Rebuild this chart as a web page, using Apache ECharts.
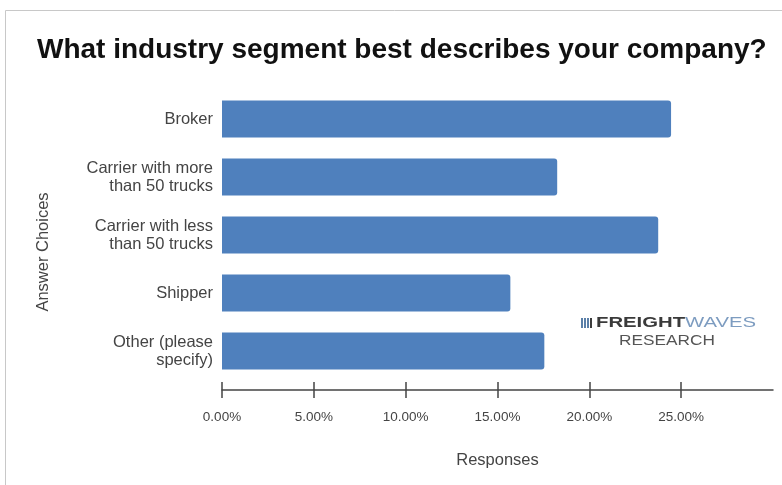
<!DOCTYPE html>
<html>
<head>
<meta charset="utf-8">
<script src="https://cdn.jsdelivr.net/npm/echarts@6/dist/echarts.min.js"></script>
<style>
html,body{margin:0;padding:0;background:#fff;}
#chart{width:782px;height:485px;}
</style>
</head>
<body>
<div id="chart"></div>
<script>
const titleText = 'What industry segment best describes your company?';
const categories = ['Broker', 'Carrier with more\nthan 50 trucks', 'Carrier with less\nthan 50 trucks', 'Shipper', 'Other (please\nspecify)'];
const values = [24.45, 18.25, 23.75, 15.7, 17.55];
const tickValues = [0, 5, 10, 15, 20, 25];
const xName = 'Responses';
const yName = 'Answer Choices';

const chart = echarts.init(document.getElementById('chart'));
const font = '"Liberation Sans", Arial, sans-serif';
const xCommon = {
  type: 'value', min: 0, max: 30, interval: 5,
  splitLine: { show: false },
  offset: 10
};
chart.setOption({
  animation: false,
  backgroundColor: '#fff',
  title: {
    text: titleText, left: 32, top: 31,
    textStyle: { fontFamily: font, fontSize: 28, fontWeight: 'bold', color: '#111' }
  },
  grid: { left: 222, right: 9, top: 90, bottom: 105 },
  xAxis: [
    Object.assign({}, xCommon, {
      axisLine: { show: true, lineStyle: { color: '#444', width: 1.5 } },
      axisTick: { show: true, length: 8, lineStyle: { color: '#444', width: 1.5 }, customValues: tickValues },
      axisLabel: {
        show: true, margin: 20, customValues: tickValues,
        formatter: v => v.toFixed(2) + '%',
        fontFamily: font, fontSize: 13.5, color: '#444'
      },
      name: xName, nameLocation: 'middle', nameGap: 62,
      nameTextStyle: { fontFamily: font, fontSize: 16.5, color: '#444' }
    }),
    Object.assign({}, xCommon, {
      axisLine: { show: false },
      axisTick: { show: true, inside: true, length: 8, lineStyle: { color: '#444', width: 1.5 }, customValues: tickValues },
      axisLabel: { show: false },
      position: 'bottom'
    })
  ],
  yAxis: {
    type: 'category', data: categories, inverse: true,
    axisLine: { show: false }, axisTick: { show: false },
    axisLabel: { margin: 9, fontFamily: font, fontSize: 16.5, color: '#444', lineHeight: 18, align: 'right' },
    name: yName, nameLocation: 'middle', nameGap: 170, nameRotate: 90,
    nameTextStyle: { fontFamily: font, fontSize: 16.5, color: '#444', padding: [0, 34, 0, 0] }
  },
  series: [{
    type: 'bar', data: values, barWidth: 37,
    itemStyle: { color: '#4f80bd', borderRadius: [0, 3, 3, 0] }
  }],
  graphic: [
    { type: 'rect', shape: { x: 5.5, y: 10.5, width: 800, height: 500 }, style: { fill: 'none', stroke: '#c8c8c8', lineWidth: 1 }, silent: true },
    { type: 'rect', shape: { x: 581, y: 318, width: 2, height: 10 }, style: { fill: '#5a7fa8' } },
    { type: 'rect', shape: { x: 584, y: 318, width: 2, height: 10 }, style: { fill: '#5a7fa8' } },
    { type: 'rect', shape: { x: 587, y: 318, width: 2, height: 10 }, style: { fill: '#5a7fa8' } },
    { type: 'rect', shape: { x: 590, y: 318, width: 2, height: 10 }, style: { fill: '#3d3d3d' } },
    {
      type: 'text', x: 596, y: 316, scaleX: 1.45,
      style: {
        text: '{a|FREIGHT}{b|WAVES}', verticalAlign: 'top',
        rich: {
          a: { fontFamily: font, fontSize: 14, fontWeight: 'bold', fill: '#3a3a3a' },
          b: { fontFamily: font, fontSize: 14, fill: '#7d9cc0' }
        }
      }
    },
    {
      type: 'text', x: 619, y: 333, scaleX: 1.15,
      style: { text: 'RESEARCH', fontFamily: font, fontSize: 15, fill: '#555', verticalAlign: 'top' }
    }
  ]
});
</script>
</body>
</html>
